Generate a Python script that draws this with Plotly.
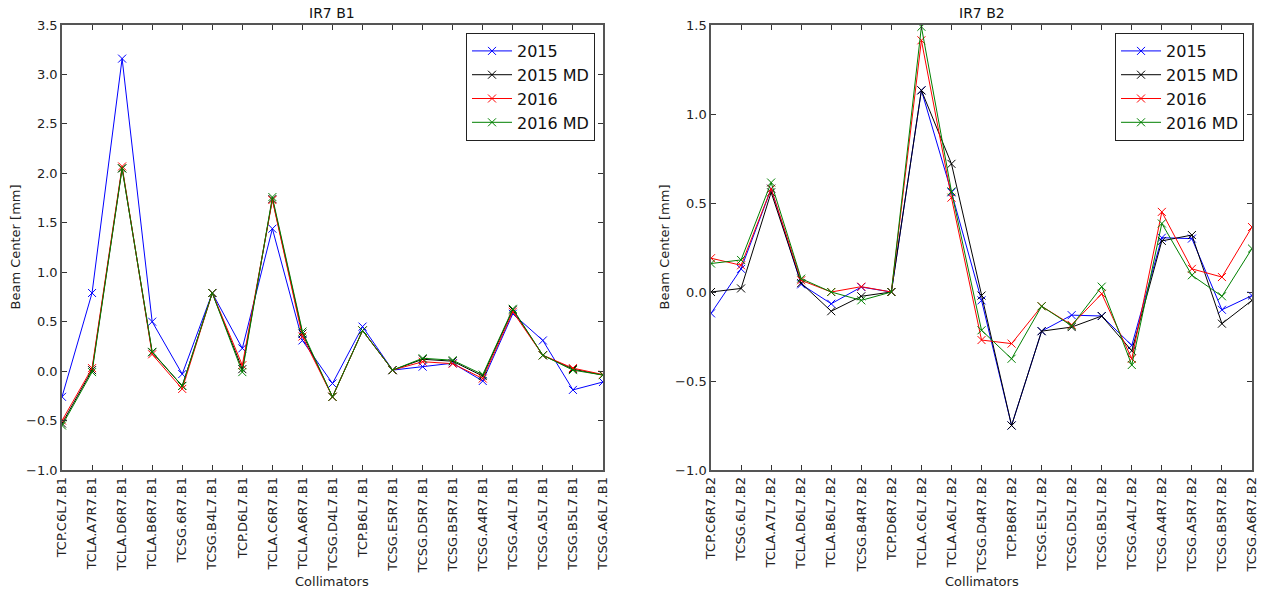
import plotly.graph_objects as go

cats_b1 = ["TCP.C6L7.B1", "TCLA.A7R7.B1", "TCLA.D6R7.B1", "TCLA.B6R7.B1", "TCSG.6R7.B1",
           "TCSG.B4L7.B1", "TCP.D6L7.B1", "TCLA.C6R7.B1", "TCLA.A6R7.B1", "TCSG.D4L7.B1",
           "TCP.B6L7.B1", "TCSG.E5R7.B1", "TCSG.D5R7.B1", "TCSG.B5R7.B1", "TCSG.A4R7.B1",
           "TCSG.A4L7.B1", "TCSG.A5L7.B1", "TCSG.B5L7.B1", "TCSG.A6L7.B1"]
b1_2015 = [-0.26, 0.79, 3.16, 0.50, -0.03, 0.79, 0.23, 1.44, 0.31, -0.125,
           0.45, 0.01, 0.045, 0.08, -0.10, 0.58, 0.31, -0.19, -0.11]
b1_2015md = [-0.53, 0.01, 2.05, 0.19, -0.15, 0.79, 0.02, 1.74, 0.38, -0.26,
             0.41, 0.01, 0.12, 0.10, -0.05, 0.62, 0.16, 0.02, -0.04]
b1_2016 = [-0.50, 0.03, 2.07, 0.17, -0.18, 0.79, 0.06, 1.73, 0.35, -0.26,
           0.41, 0.01, 0.095, 0.075, -0.075, 0.60, 0.16, 0.03, -0.035]
b1_2016md = [-0.55, -0.01, 2.05, 0.195, -0.15, 0.79, -0.01, 1.76, 0.40, -0.26,
             0.41, 0.01, 0.13, 0.11, -0.035, 0.63, 0.16, 0.01, -0.04]

cats_b2 = ["TCP.C6R7.B2", "TCSG.6L7.B2", "TCLA.A7L7.B2", "TCLA.D6L7.B2", "TCLA.B6L7.B2",
           "TCSG.B4R7.B2", "TCP.D6R7.B2", "TCLA.C6L7.B2", "TCLA.A6L7.B2", "TCSG.D4R7.B2",
           "TCP.B6R7.B2", "TCSG.E5L7.B2", "TCSG.D5L7.B2", "TCSG.B5L7.B2", "TCSG.A4L7.B2",
           "TCSG.A4R7.B2", "TCSG.A5R7.B2", "TCSG.B5R7.B2", "TCSG.A6R7.B2"]
b2_2015 = [-0.12, 0.13, 0.58, 0.043, -0.066, 0.028, 0.0, 1.133, 0.56, -0.047,
           -0.75, -0.22, -0.13, -0.135, -0.30, 0.305, 0.30, -0.10, -0.02]
b2_2015md = [0.0, 0.02, 0.56, 0.05, -0.108, -0.024, 0.0, 1.133, 0.72, -0.02,
             -0.75, -0.22, -0.197, -0.135, -0.33, 0.287, 0.32, -0.178, -0.047]
b2_2016 = [0.19, 0.15, 0.58, 0.066, 0.0, 0.03, 0.0, 1.414, 0.53, -0.27,
           -0.29, -0.08, -0.185, -0.01, -0.375, 0.45, 0.13, 0.084, 0.365]
b2_2016md = [0.16, 0.18, 0.615, 0.075, 0.0, -0.047, 0.0, 1.49, 0.565, -0.215,
             -0.375, -0.08, -0.19, 0.03, -0.41, 0.385, 0.094, -0.024, 0.244]

series_names = ["2015", "2015 MD", "2016", "2016 MD"]
colors = ["#0000ff", "#000000", "#ff0000", "#008000"]

FONT = "DejaVu Sans"
fig = go.Figure()

for name, ys, col in zip(series_names, [b1_2015, b1_2015md, b1_2016, b1_2016md], colors):
    fig.add_trace(go.Scatter(x=cats_b1, y=ys, name=name, mode="lines+markers",
                             line=dict(color=col, width=1),
                             marker=dict(symbol="x-thin", size=8, line=dict(color=col, width=1)),
                             xaxis="x", yaxis="y", legend="legend"))
for name, ys, col in zip(series_names, [b2_2015, b2_2015md, b2_2016, b2_2016md], colors):
    fig.add_trace(go.Scatter(x=cats_b2, y=ys, name=name, mode="lines+markers",
                             line=dict(color=col, width=1),
                             marker=dict(symbol="x-thin", size=8, line=dict(color=col, width=1)),
                             xaxis="x2", yaxis="y2", legend="legend2"))

axis_common = dict(showgrid=False, zeroline=False, ticks="inside", ticklen=5,
                   tickcolor="#333", mirror="ticks", showline=True, linecolor="#555",
                   linewidth=1.5, automargin=False,
                   tickfont=dict(family=FONT, size=13, color="#222"))

xa = dict(axis_common, type="category", range=[0, 18], tickangle=-90)

legend_common = dict(y=0.982, xanchor="right", yanchor="top",
                     bordercolor="#222", borderwidth=1, bgcolor="white", itemwidth=40,
                     font=dict(family=FONT, size=16, color="#111"), tracegroupgap=0)

title_font = dict(family=FONT, size=13, color="#222")


def ann(text, x, y, **kw):
    return dict(text=text, x=x, y=y, xref="paper", yref="paper", showarrow=False, **kw)


fig.update_layout(
    width=1263, height=592,
    margin=dict(l=62, r=11, t=25, b=122),
    paper_bgcolor="white", plot_bgcolor="white",
    showlegend=True,
    xaxis=dict(xa, domain=[0, 0.4546], anchor="y"),
    xaxis2=dict(xa, domain=[0.5454, 1], anchor="y2"),
    yaxis=dict(axis_common, range=[-1.0, 3.5], dtick=0.5, tickformat=".1f", anchor="x"),
    yaxis2=dict(axis_common, range=[-1.0, 1.5], dtick=0.5, tickformat=".1f", anchor="x2"),
    legend=dict(legend_common, x=0.4479),
    legend2=dict(legend_common, x=0.9933),
    annotations=[
        ann("IR7 B1", 0.2273, 1, xanchor="center", yanchor="bottom", yshift=2,
            font=dict(family=FONT, size=14, color="#111")),
        ann("IR7 B2", 0.7727, 1, xanchor="center", yanchor="bottom", yshift=2,
            font=dict(family=FONT, size=14, color="#111")),
        ann("Collimators", 0.2273, 0, xanchor="center", yanchor="middle", yshift=-111, font=title_font),
        ann("Collimators", 0.7727, 0, xanchor="center", yanchor="middle", yshift=-111, font=title_font),
        ann("Beam Center [mm]", 0, 0.5, xanchor="center", yanchor="middle", xshift=-47,
            textangle=-90, font=title_font),
        ann("Beam Center [mm]", 0.5454, 0.5, xanchor="center", yanchor="middle", xshift=-47,
            textangle=-90, font=title_font),
    ],
)

fig.write_html("out.html")
